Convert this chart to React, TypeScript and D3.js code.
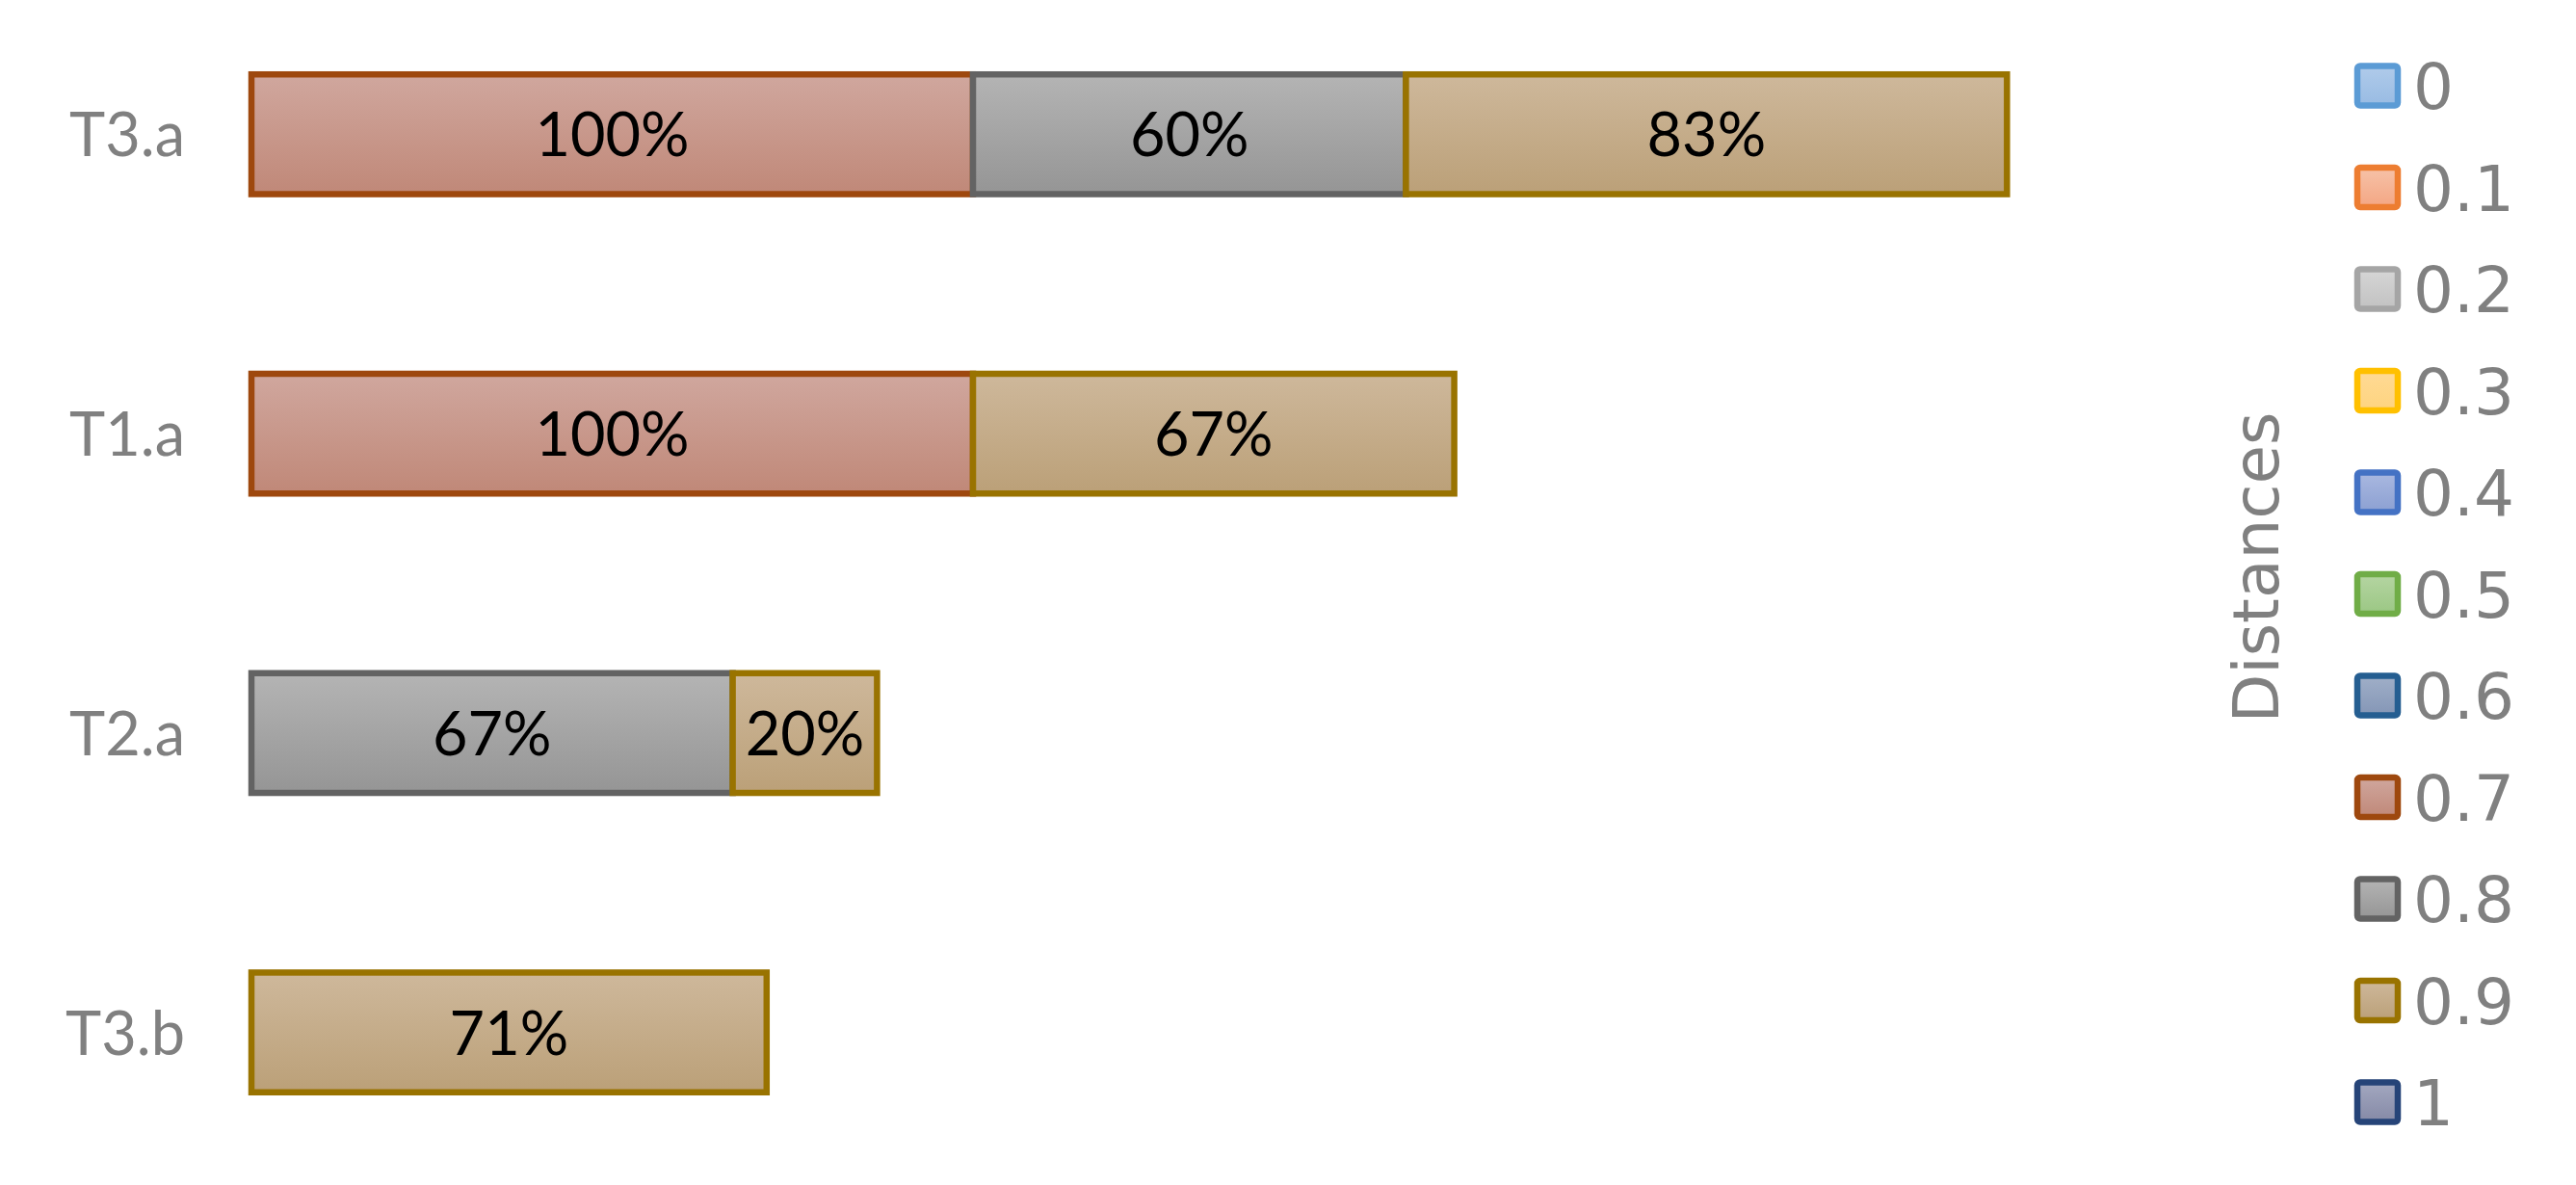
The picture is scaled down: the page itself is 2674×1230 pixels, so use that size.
import * as d3 from 'd3';

const categories = ['T3.a', 'T1.a', 'T2.a', 'T3.b'];
const distances = ['0', '0.1', '0.2', '0.3', '0.4', '0.5', '0.6', '0.7', '0.8', '0.9', '1'];

// share per category for each distance (only 0.7, 0.8 and 0.9 have data)
const d00 = [0, 0, 0, 0];
const d01 = [0, 0, 0, 0];
const d02 = [0, 0, 0, 0];
const d03 = [0, 0, 0, 0];
const d04 = [0, 0, 0, 0];
const d05 = [0, 0, 0, 0];
const d06 = [0, 0, 0, 0];
const d07 = [1.0, 1.0, 0, 0];
const d08 = [0.6, 0, 0.667, 0];
const d09 = [0.833, 0.667, 0.2, 0.714];
const d10 = [0, 0, 0, 0];
const seriesValues = [d00, d01, d02, d03, d04, d05, d06, d07, d08, d09, d10];

const borders = ['#5B9BD5', '#ED7D31', '#A5A5A5', '#FFC000', '#4472C4', '#70AD47', '#255E91', '#9E480E', '#636363', '#997300', '#264478'];
const fillTop = ['#B0CBEA', '#F6C2A8', '#D6D6D6', '#FFDA95', '#A9B8E0', '#B5D5A2', '#A0AFC8', '#D0A79E', '#B4B4B4', '#CEB89B', '#A3A8C0'];
const fillBottom = ['#98BBE3', '#F4A683', '#C2C2C2', '#FED47F', '#8CA0D2', '#9BC784', '#8496B6', '#C08878', '#959595', '#BBA078', '#8589A6'];

const W = 2674;
const H = 1230;
const labelFont = 'Lato, "Open Sans", sans-serif';
const legendFont = '"DejaVu Sans", sans-serif';

export default function App() {
  const rows = categories.map((c, i) => {
    const r: Record<string, any> = { category: c };
    distances.forEach((d, j) => { r[d] = seriesValues[j][i]; });
    return r;
  });

  const stacked = d3.stack<any>().keys(distances)(rows);

  const x = d3.scaleLinear().domain([0, 3]).range([261, 2508]);
  const y = d3.scaleBand().domain(categories).range([-16, 1227]).paddingInner(0.6).paddingOuter(0.3);
  const legendY = d3.scalePoint().domain(distances).range([89, 1144]);

  return (
    <svg width={W} height={H} style={{ position: 'fixed', left: 0, top: 0, background: '#fff' }}>
      <defs>
        {distances.map((d, j) => (
          <linearGradient key={d} id={`grad${j}`} x1="0" y1="0" x2="0" y2="1">
            <stop offset="0%" stopColor={fillTop[j]} />
            <stop offset="100%" stopColor={fillBottom[j]} />
          </linearGradient>
        ))}
      </defs>
      <rect width={W} height={H} fill="#fff" />

      {/* bars */}
      {stacked.map((s, j) => (
        <g key={s.key}>
          {s.map((p, i) => {
            const v = p[1] - p[0];
            if (!v) return null;
            return (
              <rect key={i}
                x={x(p[0])} y={y(categories[i])!}
                width={x(p[1]) - x(p[0])} height={y.bandwidth()}
                fill={`url(#grad${j})`} stroke={borders[j]} strokeWidth={6.5} />
            );
          })}
        </g>
      ))}

      {/* data labels */}
      {stacked.map((s, j) => (
        <g key={s.key}>
          {s.map((p, i) => {
            const v = p[1] - p[0];
            if (!v) return null;
            return (
              <text key={i} x={(x(p[0]) + x(p[1])) / 2} y={y(categories[i])! + y.bandwidth() / 2 + 23}
                textAnchor="middle" fontFamily={labelFont} fontSize={63} fill="#000">
                {d3.format('.0%')(v)}
              </text>
            );
          })}
        </g>
      ))}

      {/* category axis */}
      {categories.map(c => (
        <text key={c} x={192} y={y(c)! + y.bandwidth() / 2 + 23} textAnchor="end"
          fontFamily={labelFont} fontSize={63} fill="#808080">{c}</text>
      ))}

      {/* legend */}
      <text transform="translate(2365, 589) rotate(-90)" textAnchor="middle"
        fontFamily={legendFont} fontSize={66} fill="#808080">Distances</text>
      {distances.map((d, j) => (
        <g key={d} transform={`translate(0, ${legendY(d)})`}>
          <rect x={2447} y={-20.5} width={42} height={41} rx={3}
            fill={`url(#grad${j})`} stroke={borders[j]} strokeWidth={6.5} />
          <text x={2505} y={24} fontFamily={legendFont} fontSize={66} fill="#808080">{d}</text>
        </g>
      ))}
    </svg>
  );
}
